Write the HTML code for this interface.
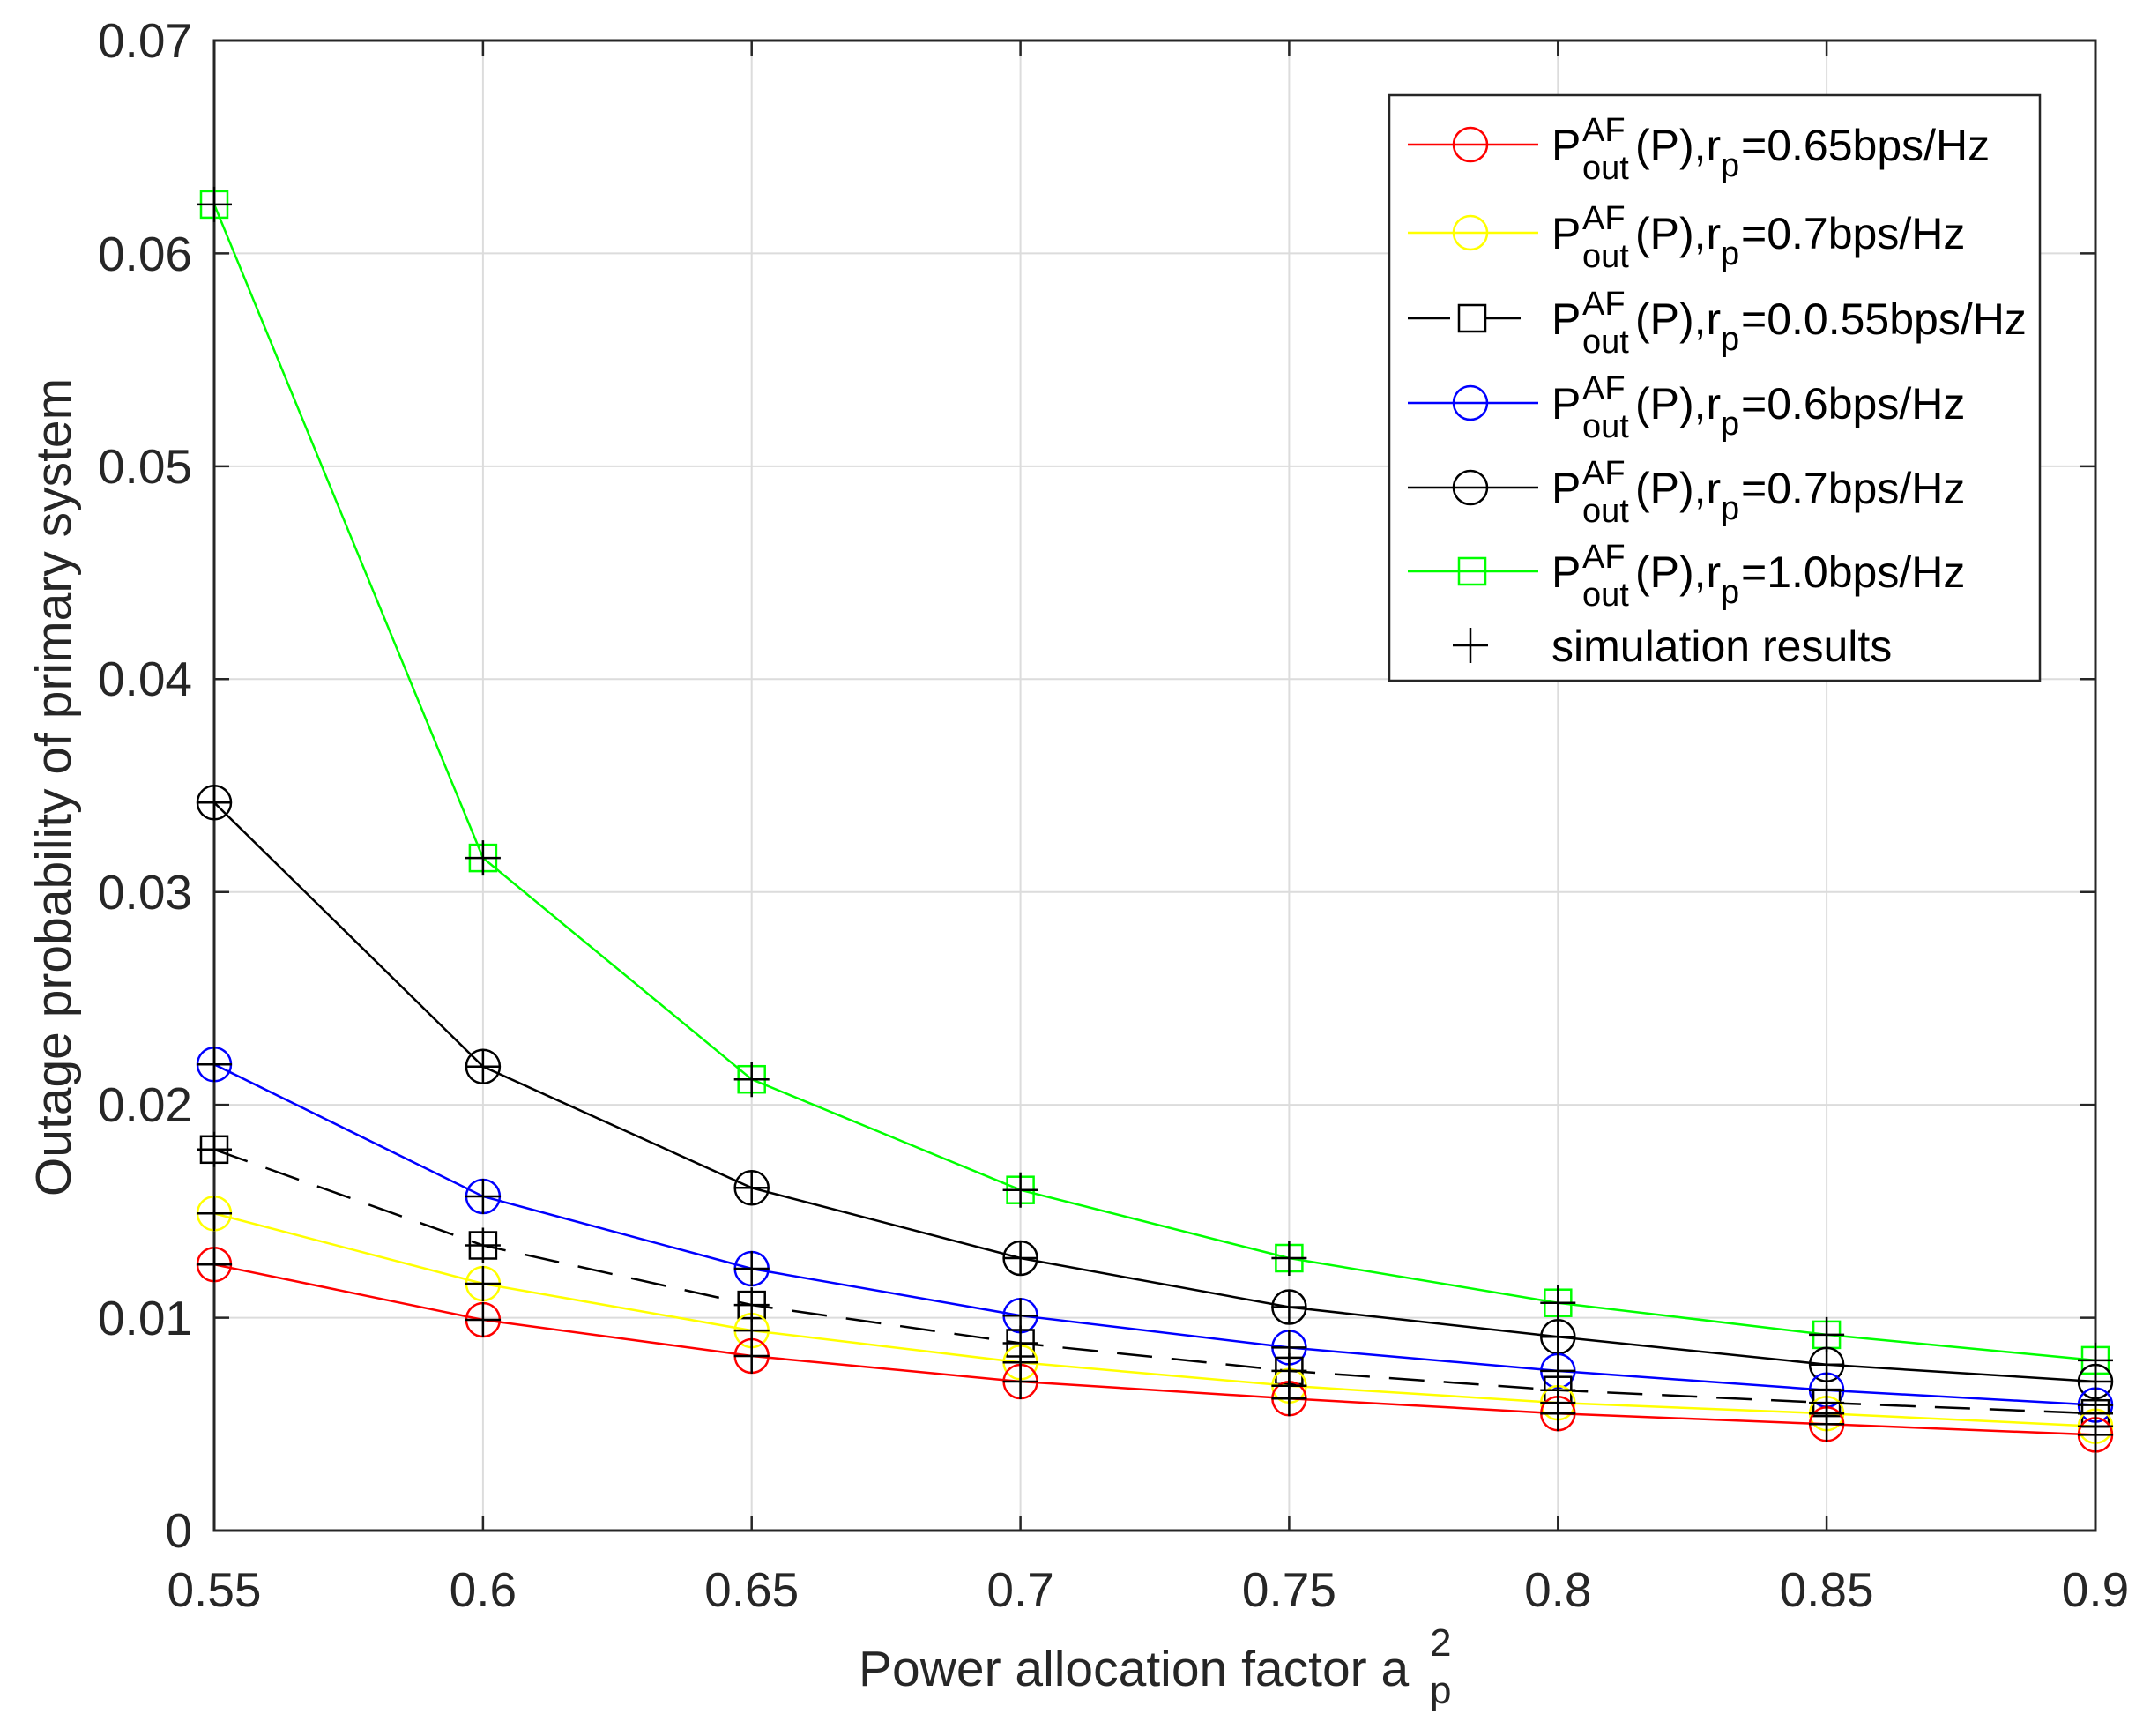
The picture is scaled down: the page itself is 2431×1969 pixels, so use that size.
<!DOCTYPE html>
<html><head><meta charset="utf-8"><style>html,body{margin:0;padding:0;background:#fff}</style></head>
<body>
<svg width="2431" height="1964" viewBox="0 0 2431 1964" xmlns="http://www.w3.org/2000/svg" font-family="Liberation Sans, Arial, sans-serif">
<defs>
<marker id="mr" markerUnits="userSpaceOnUse" markerWidth="50" markerHeight="50" refX="25" refY="25" overflow="visible"><circle cx="25" cy="25" r="19" fill="none" stroke="#ff0000" stroke-width="2.5"/></marker>
<marker id="my" markerUnits="userSpaceOnUse" markerWidth="50" markerHeight="50" refX="25" refY="25" overflow="visible"><circle cx="25" cy="25" r="19" fill="none" stroke="#ffff00" stroke-width="2.5"/></marker>
<marker id="mb" markerUnits="userSpaceOnUse" markerWidth="50" markerHeight="50" refX="25" refY="25" overflow="visible"><circle cx="25" cy="25" r="19" fill="none" stroke="#0000ff" stroke-width="2.5"/></marker>
<marker id="mk" markerUnits="userSpaceOnUse" markerWidth="50" markerHeight="50" refX="25" refY="25" overflow="visible"><circle cx="25" cy="25" r="19" fill="none" stroke="#000" stroke-width="2.5"/></marker>
<marker id="sk" markerUnits="userSpaceOnUse" markerWidth="50" markerHeight="50" refX="25" refY="25" overflow="visible"><rect x="10" y="10" width="30" height="30" fill="none" stroke="#000" stroke-width="2.5"/></marker>
<marker id="sg" markerUnits="userSpaceOnUse" markerWidth="50" markerHeight="50" refX="25" refY="25" overflow="visible"><rect x="10" y="10" width="30" height="30" fill="none" stroke="#00ff00" stroke-width="2.5"/></marker>
<marker id="pl" markerUnits="userSpaceOnUse" markerWidth="50" markerHeight="50" refX="25" refY="25" overflow="visible"><path d="M5 25H45M25 5V45" stroke="#000" stroke-width="2.5"/></marker>
</defs>
<rect width="2431" height="1964" fill="#fff"/>
<g stroke="#dcdcdc" stroke-width="2">
<path d="M547.9 46V1736M852.7 46V1736M1157.6 46V1736M1462.4 46V1736M1767.3 46V1736M2072.1 46V1736"/>
<path d="M243 1494.6H2377M243 1253.1H2377M243 1011.7H2377M243 770.3H2377M243 528.9H2377M243 287.4H2377"/>
</g>
<g stroke="#262626" stroke-width="2.5">
<path d="M547.9 1736v-17M852.7 1736v-17M1157.6 1736v-17M1462.4 1736v-17M1767.3 1736v-17M2072.1 1736v-17"/>
<path d="M547.9 46v17M852.7 46v17M1157.6 46v17M1462.4 46v17M1767.3 46v17M2072.1 46v17"/>
<path d="M243 1494.6h17M243 1253.1h17M243 1011.7h17M243 770.3h17M243 528.9h17M243 287.4h17"/>
<path d="M2377 1494.6h-17M2377 1253.1h-17M2377 1011.7h-17M2377 770.3h-17M2377 528.9h-17M2377 287.4h-17"/>
</g>
<rect x="243" y="46" width="2134" height="1690" fill="none" stroke="#262626" stroke-width="3"/>
<g fill="none" stroke-width="2.5">
<polyline stroke="#00ff00" marker-start="url(#sg)" marker-mid="url(#sg)" marker-end="url(#sg)" points="243,231.9 547.9,973.1 852.7,1224.2 1157.6,1349.7 1462.4,1427 1767.3,1477.7 2072.1,1513.9 2377,1542.9"/>
<polyline stroke="#000" marker-start="url(#mk)" marker-mid="url(#mk)" marker-end="url(#mk)" points="243,910.3 547.9,1209.7 852.7,1347.3 1157.6,1427 1462.4,1482.5 1767.3,1516.3 2072.1,1547.7 2377,1567"/>
<polyline stroke="#0000ff" marker-start="url(#mb)" marker-mid="url(#mb)" marker-end="url(#mb)" points="243,1207.3 547.9,1357 852.7,1439 1157.6,1492.2 1462.4,1528.4 1767.3,1554.9 2072.1,1576.7 2377,1593.6"/>
<polyline stroke="#000" stroke-dasharray="40,22" marker-start="url(#sk)" marker-mid="url(#sk)" marker-end="url(#sk)" points="243,1303.8 547.9,1412.5 852.7,1480.1 1157.6,1523.5 1462.4,1554.9 1767.3,1576.7 2072.1,1591.1 2377,1603.2"/>
<polyline stroke="#ffff00" marker-start="url(#my)" marker-mid="url(#my)" marker-end="url(#my)" points="243,1376.3 547.9,1456 852.7,1509.1 1157.6,1545.3 1462.4,1571.8 1767.3,1591.1 2072.1,1603.2 2377,1617.7"/>
<polyline stroke="#ff0000" marker-start="url(#mr)" marker-mid="url(#mr)" marker-end="url(#mr)" points="243,1434.2 547.9,1497 852.7,1538 1157.6,1567 1462.4,1586.3 1767.3,1603.2 2072.1,1615.3 2377,1627.4"/>
</g>
<g fill="none" stroke="none">
<polyline marker-start="url(#pl)" marker-mid="url(#pl)" marker-end="url(#pl)" points="243,231.9 547.9,973.1 852.7,1224.2 1157.6,1349.7 1462.4,1427 1767.3,1477.7 2072.1,1513.9 2377,1542.9"/>
<polyline marker-start="url(#pl)" marker-mid="url(#pl)" marker-end="url(#pl)" points="243,910.3 547.9,1209.7 852.7,1347.3 1157.6,1427 1462.4,1482.5 1767.3,1516.3 2072.1,1547.7 2377,1567"/>
<polyline marker-start="url(#pl)" marker-mid="url(#pl)" marker-end="url(#pl)" points="243,1207.3 547.9,1357 852.7,1439 1157.6,1492.2 1462.4,1528.4 1767.3,1554.9 2072.1,1576.7 2377,1593.6"/>
<polyline marker-start="url(#pl)" marker-mid="url(#pl)" marker-end="url(#pl)" points="243,1303.8 547.9,1412.5 852.7,1480.1 1157.6,1523.5 1462.4,1554.9 1767.3,1576.7 2072.1,1591.1 2377,1603.2"/>
<polyline marker-start="url(#pl)" marker-mid="url(#pl)" marker-end="url(#pl)" points="243,1376.3 547.9,1456 852.7,1509.1 1157.6,1545.3 1462.4,1571.8 1767.3,1591.1 2072.1,1603.2 2377,1617.7"/>
<polyline marker-start="url(#pl)" marker-mid="url(#pl)" marker-end="url(#pl)" points="243,1434.2 547.9,1497 852.7,1538 1157.6,1567 1462.4,1586.3 1767.3,1603.2 2072.1,1615.3 2377,1627.4"/>
</g>
<g font-size="55" fill="#262626" text-anchor="middle">
<text x="243" y="1822">0.55</text><text x="547.9" y="1822">0.6</text><text x="852.7" y="1822">0.65</text><text x="1157.6" y="1822">0.7</text><text x="1462.4" y="1822">0.75</text><text x="1767.3" y="1822">0.8</text><text x="2072.1" y="1822">0.85</text><text x="2377" y="1822">0.9</text>
</g>
<g font-size="55" fill="#262626" text-anchor="end">
<text x="218" y="1755">0</text><text x="218" y="1514">0.01</text><text x="218" y="1272">0.02</text><text x="218" y="1031">0.03</text><text x="218" y="789">0.04</text><text x="218" y="548">0.05</text><text x="218" y="307">0.06</text><text x="218" y="65">0.07</text>
</g>
<g font-size="57" fill="#262626">
<text x="974" y="1912">Power allocation factor a</text>
<text x="1622" y="1878" font-size="44">2</text>
<text x="1622" y="1932" font-size="44">p</text>
<text transform="translate(80,893) rotate(-90)" text-anchor="middle">Outage probability of primary system</text>
</g>
<rect x="1576" y="108" width="738" height="664" fill="#fff" stroke="#262626" stroke-width="2.5"/>
<g stroke-width="2.5" fill="none">
<path d="M1597 164H1745" stroke="#ff0000"/><circle cx="1668" cy="164" r="19" stroke="#ff0000"/>
<path d="M1597 264H1745" stroke="#ffff00"/><circle cx="1668" cy="264" r="19" stroke="#ffff00"/>
<path d="M1597 361H1645M1683 361H1725" stroke="#000"/><rect x="1655" y="346" width="30" height="30" stroke="#000"/>
<path d="M1597 457H1745" stroke="#0000ff"/><circle cx="1668" cy="457" r="19" stroke="#0000ff"/>
<path d="M1597 553H1745" stroke="#000"/><circle cx="1668" cy="553" r="19" stroke="#000"/>
<path d="M1597 648H1745" stroke="#00ff00"/><rect x="1655" y="633" width="30" height="30" stroke="#00ff00"/>
<path d="M1648 732H1688M1668 712V752" stroke="#000"/>
</g>
<g fill="#000" font-size="50">
<g><text x="1760" y="182">P</text><text x="1795" y="160" font-size="38">AF</text><text x="1795" y="203" font-size="38">out</text><text x="1855" y="182">(P),r</text><text x="1952" y="200" font-size="38">p</text><text x="1975" y="182">=0.65bps/Hz</text></g>
<g transform="translate(0,100)"><text x="1760" y="182">P</text><text x="1795" y="160" font-size="38">AF</text><text x="1795" y="203" font-size="38">out</text><text x="1855" y="182">(P),r</text><text x="1952" y="200" font-size="38">p</text><text x="1975" y="182">=0.7bps/Hz</text></g>
<g transform="translate(0,197)"><text x="1760" y="182">P</text><text x="1795" y="160" font-size="38">AF</text><text x="1795" y="203" font-size="38">out</text><text x="1855" y="182">(P),r</text><text x="1952" y="200" font-size="38">p</text><text x="1975" y="182">=0.0.55bps/Hz</text></g>
<g transform="translate(0,293)"><text x="1760" y="182">P</text><text x="1795" y="160" font-size="38">AF</text><text x="1795" y="203" font-size="38">out</text><text x="1855" y="182">(P),r</text><text x="1952" y="200" font-size="38">p</text><text x="1975" y="182">=0.6bps/Hz</text></g>
<g transform="translate(0,389)"><text x="1760" y="182">P</text><text x="1795" y="160" font-size="38">AF</text><text x="1795" y="203" font-size="38">out</text><text x="1855" y="182">(P),r</text><text x="1952" y="200" font-size="38">p</text><text x="1975" y="182">=0.7bps/Hz</text></g>
<g transform="translate(0,484)"><text x="1760" y="182">P</text><text x="1795" y="160" font-size="38">AF</text><text x="1795" y="203" font-size="38">out</text><text x="1855" y="182">(P),r</text><text x="1952" y="200" font-size="38">p</text><text x="1975" y="182">=1.0bps/Hz</text></g>
<text x="1760" y="750">simulation results</text>
</g>
</svg>
</body></html>
